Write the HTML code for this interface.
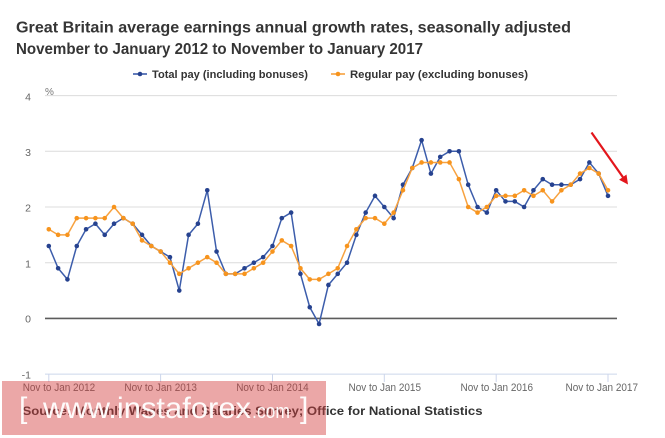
<!DOCTYPE html>
<html><head><meta charset="utf-8"><style>
html,body{margin:0;padding:0;background:#fff;}
svg{display:block;}
text{font-family:"Liberation Sans",sans-serif;}
</style></head><body>
<svg width="665" height="438" viewBox="0 0 665 438" xmlns="http://www.w3.org/2000/svg">
<defs>
<marker id="mb" markerWidth="6" markerHeight="6" refX="3" refY="3" markerUnits="userSpaceOnUse"><circle cx="3" cy="3" r="2.3" fill="#26428f"/></marker>
<marker id="mo" markerWidth="6" markerHeight="6" refX="3" refY="3" markerUnits="userSpaceOnUse"><circle cx="3" cy="3" r="2.3" fill="#f7941d"/></marker>
</defs>
<rect width="665" height="438" fill="#fff"/>
<text x="16" y="32.5" font-size="16" font-weight="bold" fill="#353535" textLength="555" lengthAdjust="spacingAndGlyphs">Great Britain average earnings annual growth rates, seasonally adjusted</text>
<text x="16" y="54" font-size="15.5" font-weight="bold" fill="#353535" textLength="407" lengthAdjust="spacingAndGlyphs">November to January 2012 to November to January 2017</text>
<!-- legend -->
<line x1="133" y1="74" x2="147" y2="74" stroke="#3c5dab" stroke-width="1.6"/>
<circle cx="140" cy="74" r="2.3" fill="#26428f"/>
<text x="152" y="78" font-size="11" font-weight="bold" fill="#333" textLength="156" lengthAdjust="spacingAndGlyphs">Total pay (including bonuses)</text>
<line x1="331" y1="74" x2="345" y2="74" stroke="#f7a240" stroke-width="1.6"/>
<circle cx="338" cy="74" r="2.3" fill="#f7941d"/>
<text x="350" y="78" font-size="11" font-weight="bold" fill="#333" textLength="178" lengthAdjust="spacingAndGlyphs">Regular pay (excluding bonuses)</text>
<!-- grid -->
<g stroke="#dcdcdc" stroke-width="1">
<line x1="45" y1="95.6" x2="617" y2="95.6"/>
<line x1="45" y1="151.3" x2="617" y2="151.3"/>
<line x1="45" y1="207" x2="617" y2="207"/>
<line x1="45" y1="262.7" x2="617" y2="262.7"/>
</g>
<line x1="45" y1="318.4" x2="617" y2="318.4" stroke="#5c5c5c" stroke-width="1.6"/>
<line x1="45" y1="374.1" x2="617" y2="374.1" stroke="#ccd6eb" stroke-width="1"/>
<g stroke="#ccd6eb" stroke-width="1">
<line x1="48.8" y1="374" x2="48.8" y2="382"/>
<line x1="160.6" y1="374" x2="160.6" y2="382"/>
<line x1="272.5" y1="374" x2="272.5" y2="382"/>
<line x1="384.3" y1="374" x2="384.3" y2="382"/>
<line x1="496.2" y1="374" x2="496.2" y2="382"/>
<line x1="608" y1="374" x2="608" y2="382"/>
</g>
<!-- y labels -->
<g font-size="10.5" fill="#666" text-anchor="end">
<text x="31" y="100.5">4</text>
<text x="31" y="156">3</text>
<text x="31" y="211.5">2</text>
<text x="31" y="267.5">1</text>
<text x="31" y="322.5">0</text>
<text x="31" y="378.5">-1</text>
</g>
<text x="45" y="95" font-size="10" fill="#777">%</text>
<!-- x labels -->
<g font-size="11" fill="#666">
<text x="22.7" y="391" textLength="72.5" lengthAdjust="spacingAndGlyphs">Nov to Jan 2012</text>
<text x="124.4" y="391" textLength="72.5" lengthAdjust="spacingAndGlyphs">Nov to Jan 2013</text>
<text x="236.2" y="391" textLength="72.5" lengthAdjust="spacingAndGlyphs">Nov to Jan 2014</text>
<text x="348.5" y="391" textLength="72.5" lengthAdjust="spacingAndGlyphs">Nov to Jan 2015</text>
<text x="460.5" y="391" textLength="72.5" lengthAdjust="spacingAndGlyphs">Nov to Jan 2016</text>
<text x="565.5" y="391" textLength="72.5" lengthAdjust="spacingAndGlyphs">Nov to Jan 2017</text>
</g>
<!-- blue series -->
<polyline fill="none" stroke="#3c5dab" stroke-width="1.5" stroke-linejoin="round" marker-start="url(#mb)" marker-mid="url(#mb)" marker-end="url(#mb)" points="48.8,245.99 58.12,268.27 67.44,279.41 76.76,245.99 86.08,229.28 95.4,223.71 104.72,234.85 114.04,223.71 123.36,218.14 132.68,223.71 142,234.85 151.32,245.99 160.64,251.56 169.96,257.13 179.28,290.55 188.6,234.85 197.92,223.71 207.24,190.29 216.56,251.56 225.88,273.84 235.2,273.84 244.52,268.27 253.84,262.7 263.16,257.13 272.48,245.99 281.8,218.14 291.12,212.57 300.44,273.84 309.76,307.26 319.08,323.97 328.4,284.98 337.72,273.84 347.04,262.7 356.36,234.85 365.68,212.57 375,195.86 384.32,207 393.64,218.14 402.96,184.72 412.28,168.01 421.6,140.16 430.92,173.58 440.24,156.87 449.56,151.3 458.88,151.3 468.2,184.72 477.52,207 486.84,212.57 496.16,190.29 505.48,201.43 514.8,201.43 524.12,207 533.44,190.29 542.76,179.15 552.08,184.72 561.4,184.72 570.72,184.72 580.04,179.15 589.36,162.44 598.68,173.58 608,195.86"/>
<!-- orange series -->
<polyline fill="none" stroke="#f7a240" stroke-width="1.5" stroke-linejoin="round" marker-start="url(#mo)" marker-mid="url(#mo)" marker-end="url(#mo)" points="48.8,229.28 58.12,234.85 67.44,234.85 76.76,218.14 86.08,218.14 95.4,218.14 104.72,218.14 114.04,207 123.36,218.14 132.68,223.71 142,240.42 151.32,245.99 160.64,251.56 169.96,262.7 179.28,273.84 188.6,268.27 197.92,262.7 207.24,257.13 216.56,262.7 225.88,273.84 235.2,273.84 244.52,273.84 253.84,268.27 263.16,262.7 272.48,251.56 281.8,240.42 291.12,245.99 300.44,268.27 309.76,279.41 319.08,279.41 328.4,273.84 337.72,268.27 347.04,245.99 356.36,229.28 365.68,218.14 375,218.14 384.32,223.71 393.64,212.57 402.96,190.29 412.28,168.01 421.6,162.44 430.92,162.44 440.24,162.44 449.56,162.44 458.88,179.15 468.2,207 477.52,212.57 486.84,207 496.16,195.86 505.48,195.86 514.8,195.86 524.12,190.29 533.44,195.86 542.76,190.29 552.08,201.43 561.4,190.29 570.72,184.72 580.04,173.58 589.36,168.01 598.68,173.58 608,190.29"/>
<!-- red arrow -->
<line x1="591.5" y1="132.5" x2="623.5" y2="178" stroke="#e3161c" stroke-width="2.2"/>
<polygon points="628,184.5 619.1,179.7 626.5,174.5" fill="#e3161c"/>
<!-- source -->
<text x="22.5" y="415" font-size="12" font-weight="bold" fill="#333" textLength="460" lengthAdjust="spacingAndGlyphs">Source: Monthly Wages and Salaries Survey; Office for National Statistics</text>
<!-- watermark -->
<rect x="2" y="381" width="324" height="54" fill="rgb(210,60,60)" fill-opacity="0.45"/>
<g fill="#fff" fill-opacity="0.95">
<text x="19" y="418" font-size="30">[</text>
<text x="43" y="418" font-size="30" textLength="208" lengthAdjust="spacingAndGlyphs">www.instaforex</text>
<text x="252" y="418" font-size="20" textLength="38" lengthAdjust="spacingAndGlyphs">.com</text>
<text x="300" y="418" font-size="30">]</text>
</g>
</svg>
</body></html>
